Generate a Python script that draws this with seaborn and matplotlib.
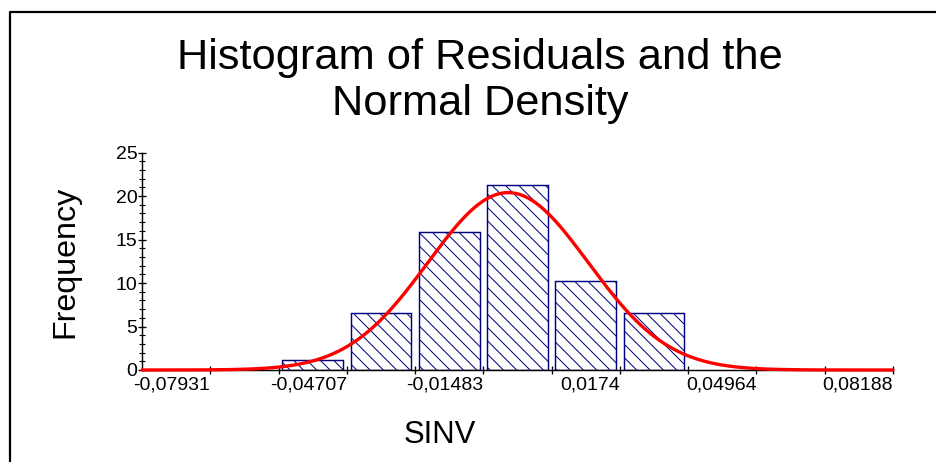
import numpy as np
import pandas as pd
import matplotlib
matplotlib.use("Agg")
import matplotlib.pyplot as plt
from matplotlib.lines import Line2D
import seaborn as sns

# ---- data ----
bin_edges = [-0.06319, -0.04707, -0.03095, -0.01483, 0.00129, 0.01741, 0.03353]
frequencies = [1.1, 6.6, 15.9, 21.3, 10.2, 6.6]
major_ticks = [-0.07931, -0.04707, -0.01483, 0.0174, 0.04964, 0.08188]
major_labels = ["-0,07931", "-0,04707", "-0,01483", "0,0174", "0,04964", "0,08188"]
minor_ticks = [-0.06319, -0.03095, 0.00129, 0.03352, 0.06576]
y_ticks = [0, 5, 10, 15, 20, 25]
x_min, x_max = -0.09543, 0.08188
# fitted normal density (as drawn in the reference)
norm_mean = -0.009
norm_sd = 0.0189
norm_peak = 20.4

DPI = 80
sns.set_theme(style="white")
plt.rcParams["font.family"] = ["Liberation Sans", "DejaVu Sans"]
plt.rcParams["hatch.linewidth"] = 0.9
plt.rcParams["text.color"] = "black"
plt.rcParams["xtick.labelcolor"] = "black"
plt.rcParams["ytick.labelcolor"] = "black"
plt.rcParams["axes.labelcolor"] = "black"

fig = plt.figure(figsize=(936 / DPI, 462 / DPI), dpi=DPI)
fig.patch.set_facecolor("white")
W, H = 936, 462
ax = fig.add_axes([142 / W, 1 - 370 / H, (893 - 142) / W, (370 - 152.6) / H])
ax.set_facecolor("white")

centers = [(bin_edges[i] + bin_edges[i + 1]) / 2 for i in range(len(frequencies))]
df = pd.DataFrame({"x": centers, "w": frequencies})
sns.histplot(data=df, x="x", weights="w", bins=bin_edges, shrink=0.89,
             color="white", edgecolor="#000080", hatch="\\\\", linewidth=1.3,
             alpha=1, ax=ax, zorder=2)
for p in ax.patches:
    p.set_facecolor("white")
    p.set_edgecolor("#000080")
    p.set_hatch("\\\\")
    p.set_alpha(1)

xs = np.linspace(x_min, x_max, 600)
ys = norm_peak * np.exp(-0.5 * ((xs - norm_mean) / norm_sd) ** 2)
curve = pd.DataFrame({"x": xs, "y": ys})
sns.lineplot(data=curve, x="x", y="y", color="#ff0000", linewidth=3.0,
             estimator=None, ax=ax, zorder=4)
for ln in ax.lines:
    ln.set_clip_on(False)

ax.set_xlim(x_min, x_max)
ax.set_ylim(0, 25)
for s in ["top", "right"]:
    ax.spines[s].set_visible(False)
for s in ["left", "bottom"]:
    ax.spines[s].set_color("black")
    ax.spines[s].set_linewidth(1.3)
ax.spines["left"].set_bounds(0, 25)

ax.set_xticks(major_ticks)
ax.set_xticklabels(major_labels, ha="right")
ax.set_xticks(minor_ticks, minor=True)
ax.set_yticks(y_ticks)
ax.set_yticks(list(range(0, 26)), minor=True)
ax.set_yticklabels([str(v) for v in y_ticks])
ax.tick_params(axis="x", which="both", direction="inout", length=8, width=1.2,
               color="black", labelsize=17.5, pad=2, bottom=True,
               labelcolor="black")
ax.tick_params(axis="y", which="major", direction="inout", length=8, width=1.2,
               color="black", labelsize=17.5, pad=0, left=True,
               labelcolor="black")
ax.tick_params(axis="y", which="minor", direction="inout", length=5, width=1.0,
               color="black", left=True)
ax.set_xlabel("")
ax.set_ylabel("")
ax.grid(False)

fig.text(480 / W, 1 - 81 / H, "Histogram of Residuals and the\nNormal Density",
         ha="center", va="center", fontsize=39, linespacing=1.2, color="black")
fig.text(65 / W, 1 - 262 / H, "Frequency", rotation=90, ha="center",
         va="center", fontsize=29, color="black")
fig.text(440 / W, 1 - 435 / H, "SINV", ha="center", va="center", fontsize=28,
         color="black")

# outer frame (left and top edges visible)
fig.add_artist(Line2D([9.5 / W, 9.5 / W, 1.0], [0.0, 1 - 11.5 / H, 1 - 11.5 / H],
                      transform=fig.transFigure, color="black", linewidth=2.0))

fig.savefig("out.png", dpi=DPI, facecolor="white")
